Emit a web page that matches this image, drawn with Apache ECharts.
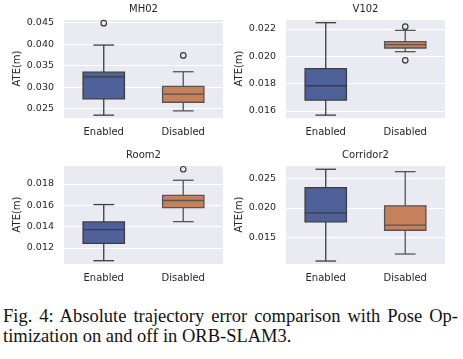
<!DOCTYPE html>
<html>
<head>
<meta charset="utf-8">
<script src="https://cdn.jsdelivr.net/npm/echarts@6/dist/echarts.min.js"></script>
<style>
  html, body { margin: 0; padding: 0; background: #ffffff; width: 463px; height: 359px; overflow: hidden; }
  #chart { position: absolute; left: 0; top: 0; width: 463px; height: 295px; }
  .cap { position: absolute; left: 3px; width: 455px; font-family: "Liberation Serif", "DejaVu Serif", serif; font-size: 18.5px; line-height: 20px; color: #111; white-space: nowrap; }
  #cap1 { top: 306px; text-align: justify; text-align-last: justify; white-space: normal; }
  #cap2 { top: 326px; }
</style>
</head>
<body>
<div id="chart"></div>
<div class="cap" id="cap1">Fig. 4: Absolute trajectory error comparison with Pose Op-</div>
<div class="cap" id="cap2">timization on and off in ORB-SLAM3.</div>
<script>
// ---- data ----
const categories = ['Enabled', 'Disabled'];
const panelTitles = ['MH02', 'V102', 'Room2', 'Corridor2'];
const yAxisName = 'ATE(m)';
// box stats: [lower whisker, Q1, median, Q3, upper whisker]
const mh02Enabled = [0.0235, 0.0273, 0.0324, 0.0335, 0.0398];
const mh02Disabled = [0.0245, 0.0265, 0.0284, 0.0302, 0.0336];
const mh02Outliers = [[0, 0.0449], [1, 0.0374]];
const v102Enabled = [0.0157, 0.0168, 0.01785, 0.0191, 0.02246];
const v102Disabled = [0.02034, 0.02061, 0.02085, 0.02107, 0.0219];
const v102Outliers = [[1, 0.02217], [1, 0.01971]];
const room2Enabled = [0.01081, 0.01244, 0.01372, 0.01444, 0.01607];
const room2Disabled = [0.01447, 0.01578, 0.01645, 0.01694, 0.01835];
const room2Outliers = [[1, 0.01938]];
const corridor2Enabled = [0.01098, 0.01763, 0.01915, 0.02341, 0.02653];
const corridor2Disabled = [0.01217, 0.0162, 0.01705, 0.02034, 0.02612];
const corridor2Outliers = [];
// axis ranges and tick steps
const yMins = [0.02284, 0.01549, 0.0105, 0.01048];
const yMaxs = [0.04586, 0.02273, 0.01978, 0.02725];
const yTickSteps = [0.005, 0.002, 0.002, 0.005];

const boxSets = [
  [mh02Enabled, mh02Disabled],
  [v102Enabled, v102Disabled],
  [room2Enabled, room2Disabled],
  [corridor2Enabled, corridor2Disabled]
];
const outlierSets = [mh02Outliers, v102Outliers, room2Outliers, corridor2Outliers];

// ---- layout / style ----
const grids = [
  { left: 64, top: 19, width: 159, height: 99 },
  { left: 286, top: 19, width: 159, height: 99 },
  { left: 64, top: 165, width: 159, height: 99 },
  { left: 286, top: 165, width: 159, height: 99 }
];
const titleTops = [4, 4, 150, 150];
const fillColors = ['#4e6198', '#c6805a'];
const lineColors = ['#3c3c3c', '#555555'];
const textColor = '#262626';
const font = 'DejaVu Sans';

function renderBox(params, api) {
  const cat = api.value(0);
  const lo = api.coord([cat, api.value(1)]);
  const q1 = api.coord([cat, api.value(2)]);
  const med = api.coord([cat, api.value(3)]);
  const q3 = api.coord([cat, api.value(4)]);
  const hi = api.coord([cat, api.value(5)]);
  const band = api.size([1, 0])[0];
  const bw = band * 0.52;
  const cw = bw * 0.5;
  const x = med[0];
  const lc = lineColors[cat];
  const ls = { stroke: lc, lineWidth: 1.3, fill: null };
  return {
    type: 'group',
    children: [
      { type: 'line', shape: { x1: x, y1: q3[1], x2: x, y2: hi[1] }, style: ls },
      { type: 'line', shape: { x1: x, y1: q1[1], x2: x, y2: lo[1] }, style: ls },
      { type: 'line', shape: { x1: x - cw / 2, y1: hi[1], x2: x + cw / 2, y2: hi[1] }, style: ls },
      { type: 'line', shape: { x1: x - cw / 2, y1: lo[1], x2: x + cw / 2, y2: lo[1] }, style: ls },
      { type: 'rect', shape: { x: x - bw / 2, y: q3[1], width: bw, height: q1[1] - q3[1] },
        style: { fill: fillColors[cat], stroke: lc, lineWidth: 1.3 } },
      { type: 'line', shape: { x1: x - bw / 2, y1: med[1], x2: x + bw / 2, y2: med[1] }, style: ls }
    ]
  };
}

const option = {
  animation: false,
  backgroundColor: '#ffffff',
  title: panelTitles.map((t, i) => ({
    text: t,
    left: grids[i].left + grids[i].width / 2,
    top: titleTops[i],
    textAlign: 'center',
    padding: 0,
    textStyle: { fontFamily: font, fontSize: 10, fontWeight: 'normal', color: textColor }
  })),
  grid: grids.map(g => Object.assign({ show: true, backgroundColor: '#eaeaf2', borderWidth: 0 }, g)),
  xAxis: grids.map((g, i) => ({
    type: 'category',
    gridIndex: i,
    data: categories,
    boundaryGap: true,
    axisLine: { show: false },
    axisTick: { show: false },
    splitLine: { show: false },
    axisLabel: { fontFamily: font, fontSize: 10, color: textColor, margin: 9 }
  })),
  yAxis: grids.map((g, i) => ({
    type: 'value',
    gridIndex: i,
    min: yMins[i],
    max: yMaxs[i],
    minInterval: yTickSteps[i],
    maxInterval: yTickSteps[i],
    splitNumber: 4,
    name: yAxisName,
    nameLocation: 'middle',
    nameGap: 38,
    nameTextStyle: { fontFamily: font, fontSize: 10, color: textColor },
    axisLine: { show: false },
    axisTick: { show: false },
    splitLine: { show: true, lineStyle: { color: '#ffffff', width: 1 } },
    axisLabel: {
      fontFamily: font, fontSize: 9.5, color: textColor, margin: 10,
      showMinLabel: false, showMaxLabel: false,
      formatter: v => v.toFixed(3)
    }
  })),
  series: []
};

boxSets.forEach((pair, i) => {
  option.series.push({
    type: 'custom',
    xAxisIndex: i,
    yAxisIndex: i,
    renderItem: renderBox,
    encode: { x: 0, y: [1, 2, 3, 4, 5] },
    data: pair.map((s, c) => [c].concat(s)),
    z: 3
  });
  option.series.push({
    type: 'scatter',
    xAxisIndex: i,
    yAxisIndex: i,
    symbol: 'circle',
    symbolSize: 5.5,
    itemStyle: { color: 'rgba(0,0,0,0)', borderColor: '#3c3c3c', borderWidth: 1.2, opacity: 1 },
    data: outlierSets[i],
    z: 4
  });
});

const chart = echarts.init(document.getElementById('chart'), null, { renderer: 'canvas' });
chart.setOption(option);
</script>
</body>
</html>
